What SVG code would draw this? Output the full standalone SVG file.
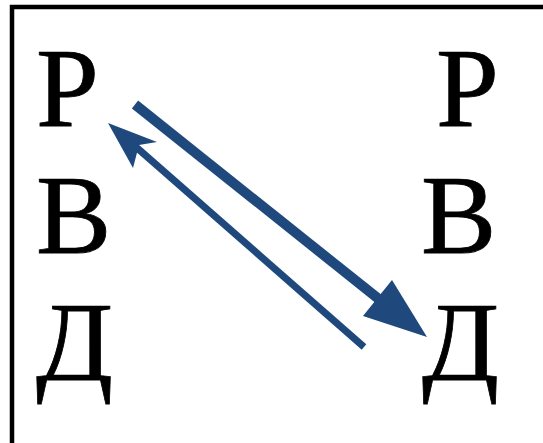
<svg xmlns="http://www.w3.org/2000/svg" width="543" height="443" viewBox="0 0 543 443">
<style>
.l{font-family:'Liberation Serif','Times New Roman',serif;font-size:113px;fill:#000;stroke:#000;stroke-width:0.8px}
.a{fill:#1F497D}
.s{stroke:#1F497D;fill:none}
</style>
<rect width="543" height="443" fill="#fff"/>
<path d="M12,443 V7 H543" fill="none" stroke="#000" stroke-width="4.5"/>
<g id="left">
<text class="l" x="36" y="126">Р</text>
<text class="l" x="36" y="253">В</text>
<text class="l" x="36" y="380">Д</text>
</g>
<g id="right">
<text class="l" x="436" y="126">Р</text>
<text class="l" x="421" y="253">В</text>
<text class="l" x="422" y="380">Д</text>
</g>
<g id="connectors">
<line class="s" x1="135" y1="104.5" x2="380" y2="300" stroke-width="10"/>
<polygon class="a" points="427,337 392,280 363,316"/>
<line class="s" x1="364" y1="347" x2="136" y2="147" stroke-width="7"/>
<polygon class="a" points="108,123 157,142 139,145 133,168"/>
</g>
</svg>
